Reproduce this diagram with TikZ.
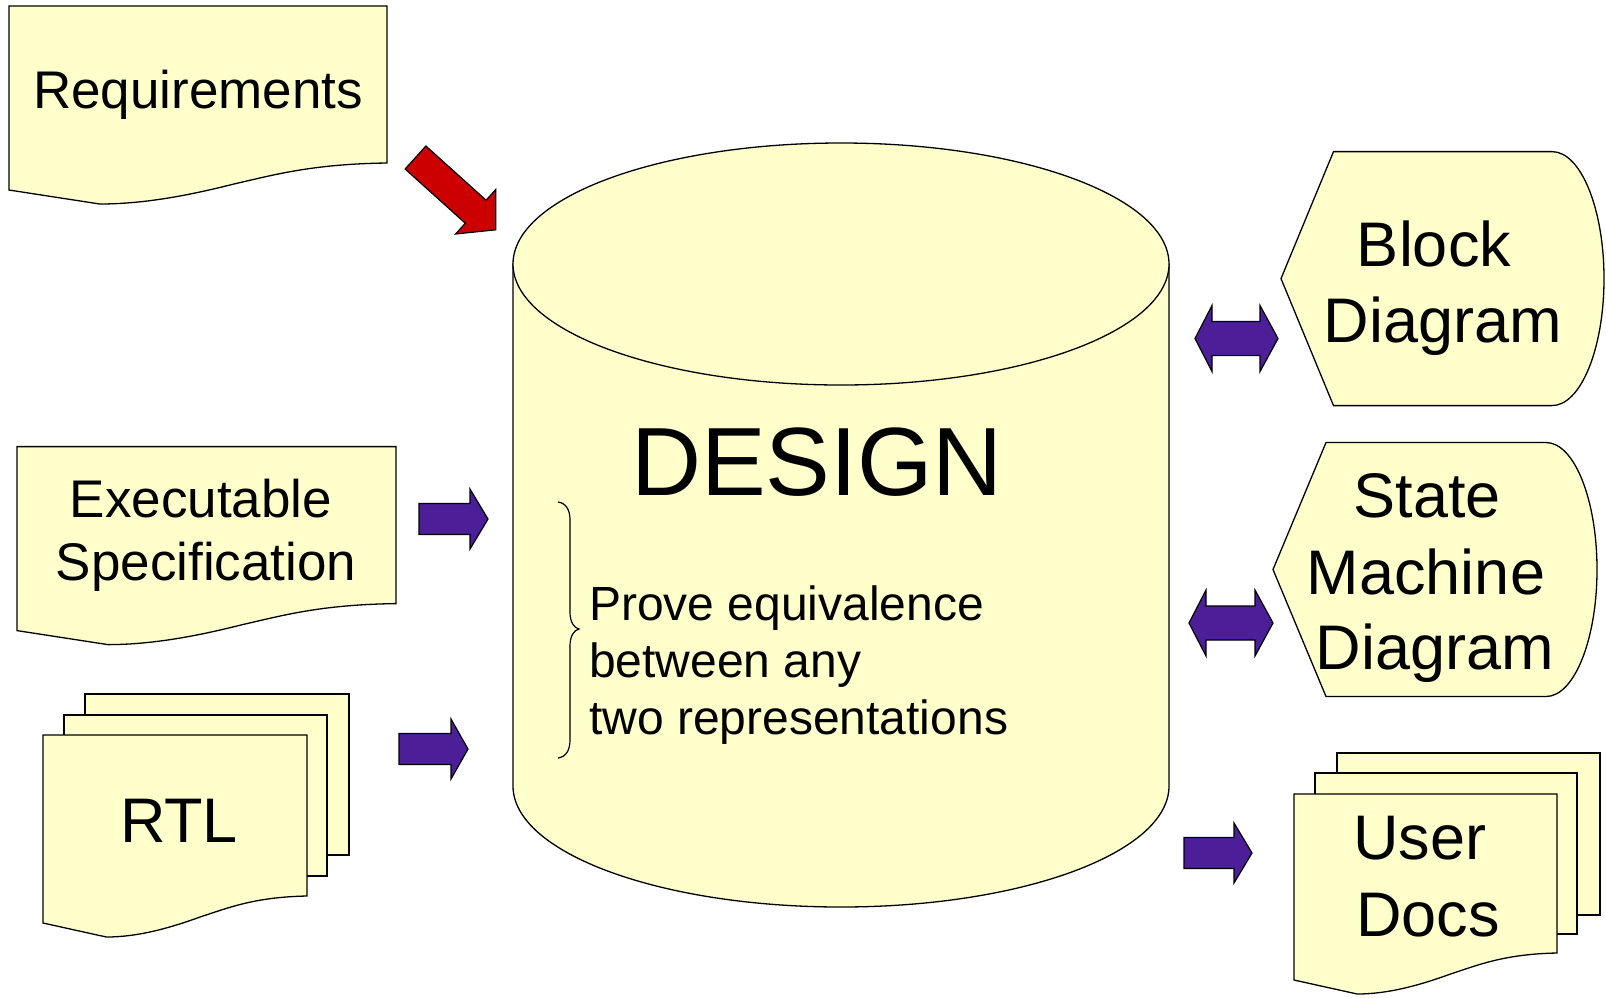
\documentclass[tikz,border=0pt]{standalone}
\usepackage{fontspec}
\setmainfont{Liberation Sans}

\definecolor{paper}{RGB}{255,255,204}
\definecolor{arrowviolet}{RGB}{76,30,152}
\definecolor{arrowred}{RGB}{204,0,0}

\tikzset{
  sheet/.style={fill=paper, draw=black, line width=1.3pt, line join=miter},
  blockarrow/.style={fill=arrowviolet, draw=black, line width=1.2pt, line join=miter},
  redarrow/.style={fill=arrowred, draw=black, line width=1.2pt, line join=miter},
  lbl/.style={inner sep=0pt, anchor=base},
  doctext/.style={lbl, font=\fontsize{53}{64}\selectfont},
  bigtext/.style={lbl, font=\fontsize{63}{76}\selectfont},
  hugetext/.style={lbl, font=\fontsize{97}{110}\selectfont},
  notetext/.style={inner sep=0pt, anchor=base west, font=\fontsize{48}{57}\selectfont},
}

% document sheet with a wavy lower edge: x, y, width, height (to right corner)
\newcommand\wavydoc[4]{%
  \filldraw[sheet] (#1,#2) -- ({#1+#3},#2) -- ({#1+#3},{#2+#4})
    .. controls ({#1+0.8*#3},{#2+#4+1}) and ({#1+0.7*#3},{#2+#4+12}) .. ({#1+0.595*#3},{#2+#4+21})
    .. controls ({#1+0.48*#3},{#2+#4+32}) and ({#1+0.36*#3},{#2+#4+41}) .. ({#1+0.24*#3},{#2+#4+41})
    -- (#1,{#2+#4+27}) -- cycle;}

% display shape: point x, corner x, arc start x, apex x, top, bottom
\newcommand\displaybox[6]{%
  \filldraw[sheet] (#1,{(#5+#6)/2}) -- (#2,#5) -- (#3,#5)
    .. controls ({#3+0.552*(#4-#3)},#5) and (#4,{(#5+#6)/2-0.552*(#6-#5)/2}) .. (#4,{(#5+#6)/2})
    .. controls (#4,{(#5+#6)/2+0.552*(#6-#5)/2}) and ({#3+0.552*(#4-#3)},#6) .. (#3,#6)
    -- (#2,#6) -- cycle;}

% right-pointing block arrow: tail x, head base x, tip x, centre y
\newcommand\rightblock[4]{%
  \filldraw[blockarrow] (#1,{#4-15.5}) -- (#2,{#4-15.5}) -- (#2,{#4-30}) -- (#3,#4)
    -- (#2,{#4+30}) -- (#2,{#4+15.5}) -- (#1,{#4+15.5}) -- cycle;}

% two-headed block arrow: left tip, left head base, right head base, right tip, centre y
\newcommand\twowayblock[5]{%
  \filldraw[blockarrow] (#1,#5) -- (#2,{#5-33}) -- (#2,{#5-17}) -- (#3,{#5-17}) -- (#3,{#5-33})
    -- (#4,#5) -- (#3,{#5+33}) -- (#3,{#5+17}) -- (#2,{#5+17}) -- (#2,{#5+33}) -- cycle;}

\begin{document}
\begin{tikzpicture}[x=1pt,y=-1pt]
  \useasboundingbox (0,0) rectangle (1606,997);

  % ---- inputs on the left ----
  \wavydoc{9}{6}{378}{157}
  \node[doctext] (req) at (198,108) {Requirements};

  \wavydoc{17}{446.6}{379}{157}
  \node[doctext] (exec1) at (201,517) {Executable};
  \node[doctext] (exec2) at (206,580) {Specification};

  \filldraw[sheet] (85,694) rectangle (349,855);
  \filldraw[sheet] (64,715) rectangle (327,876);
  \wavydoc{43}{735}{264}{161}
  \node[bigtext] (rtl) at (179,842) {RTL};

  % ---- central design database ----
  \filldraw[sheet] (513,264) -- (513,786)
    .. controls (513,852.8) and (659.9,907) .. (841,907)
    .. controls (1022.1,907) and (1169,852.8) .. (1169,786) -- (1169,264) -- cycle;
  \filldraw[sheet] (841,264) ellipse [x radius=328, y radius=121];
  \node[hugetext] (design) at (817,495) {DESIGN};

  \draw[line width=1.2pt] (558,502) .. controls (566,503) and (570,510) .. (570,520)
    -- (570,612) .. controls (570,622) and (574,628) .. (579,629)
    .. controls (574,630) and (570,636) .. (570,646)
    -- (570,740) .. controls (570,750) and (566,757) .. (558,758);
  \node[notetext] (note1) at (589,620) {Prove equivalence};
  \node[notetext] (note2) at (589,677) {between any};
  \node[notetext] (note3) at (589,734) {two representations};

  % ---- outputs on the right ----
  \displaybox{1281}{1333.5}{1552}{1604}{151.6}{405.6}
  \node[bigtext] (block1) at (1434,266) {Block};
  \node[bigtext] (block2) at (1443,342) {Diagram};

  \displaybox{1273}{1326}{1546}{1597}{442.5}{696.5}
  \node[bigtext] (fsm1) at (1427,517) {State};
  \node[bigtext] (fsm2) at (1426,594) {Machine};
  \node[bigtext] (fsm3) at (1435,669) {Diagram};

  \filldraw[sheet] (1337,753) rectangle (1600,915);
  \filldraw[sheet] (1315,773) rectangle (1577,934);
  \wavydoc{1294}{794}{263}{159}
  \node[bigtext] (docs1) at (1420,859) {User};
  \node[bigtext] (docs2) at (1428,936) {Docs};

  % ---- block arrows ----
  \filldraw[redarrow] (405.1,169.0) -- (465.3,223.2) -- (455.6,234.0) -- (495.7,229.8)
    -- (495.8,189.4) -- (486.1,200.2) -- (425.9,146.0) -- cycle;
  \rightblock{419}{470}{488}{519}
  \rightblock{399}{451}{468}{749}
  \twowayblock{1195}{1212}{1260}{1278}{338.5}
  \twowayblock{1189}{1206}{1255}{1273}{623}
  \rightblock{1184}{1234}{1252}{853}
\end{tikzpicture}
\end{document}
